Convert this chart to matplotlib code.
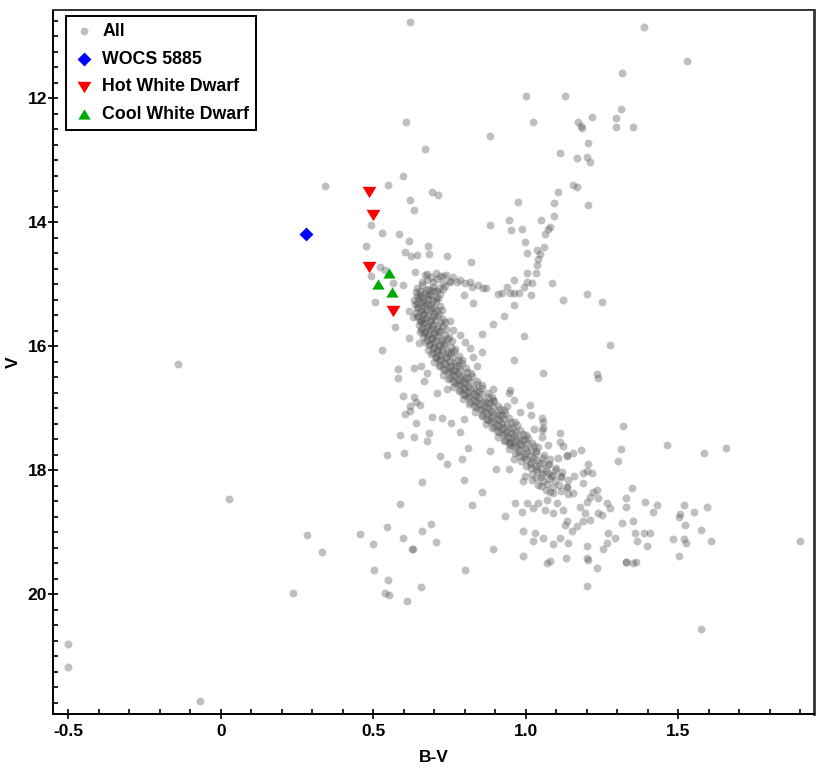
import matplotlib
matplotlib.use("Agg")
import matplotlib.pyplot as plt
from matplotlib.ticker import MultipleLocator

plt.rcParams['font.family'] = ['Liberation Sans', 'DejaVu Sans']
plt.rcParams['font.weight'] = 'bold'

# field / scattered stars (B-V, V)
field_bv = [0.621, 1.389, 1.530, 1.317, 1.000, 1.127,
            0.606, 1.023, 1.312, 1.218, 1.172, 1.186, 1.181, 1.295, 1.295, 1.350,
            0.883, 0.670, 1.204, 1.113, 1.167, 1.201, 1.209,
            0.343, 0.549, 0.599, 0.694, 0.711, 0.621, 0.635,
            1.154, 1.169, 1.106, 0.974, 1.091, 1.204,
            0.946, 0.883, 0.952, 0.988, 1.050, 1.091, 1.072, 1.080, 1.064,
            0.493, 0.530, 0.585, 0.616, 0.680, 0.475,
            0.605, 0.625, 0.642, 0.683, 0.741,
            0.997, 1.003, 1.036, 1.047, 1.060, 1.041, 1.036,
            0.820, 1.005, 1.033, 0.961, 1.003, 1.019, 1.087,
            0.910, 0.923, 0.940, 0.949, 0.962, 0.979, 0.995, 1.018,
            0.961, 1.122, 1.201, 1.249,
            0.522, 0.539, 0.493, 0.566, 0.597, 0.506, 0.638, 0.670,
            0.617, 0.630, 0.571, 0.653, 0.617, 0.651, 0.530, 0.653,
            0.785, 0.818, 0.845, 0.861, 0.870, 0.823, 0.730, 0.752, 0.796, 0.828,
            0.892, 0.929, 0.856, 0.995, 1.276, 0.856,
            0.960, 1.058, 1.233, 1.238,
            0.580, 0.580, 0.635, 0.657, 0.677, 0.666,
            0.599, 0.635, 0.621, 0.653, 0.640, 0.604, 0.621, 0.639, 0.588, 0.632,
            0.684, 0.675, 0.544, 0.602, 0.659,
            0.710, 0.741,
            0.692, 0.727, 0.756, 0.796, 0.785, 0.812, 0.719, 0.743, 0.796,
            0.883, 0.902, 0.946, 0.960, 0.792,
            0.894, 0.946, 0.963, 0.949, 0.891, 0.938, 0.949,
            0.752, 0.763, 0.785, 0.801, 0.818, 0.828, 0.839,
            1.014, 0.981, 1.017, 1.052, 1.058, 1.028, 1.052, 1.052, 1.072, 1.112,
            1.112, 1.123, 1.136, 1.156, 1.180, 1.058, 1.107, 1.134,
            1.320, 1.312, 1.303, 1.462, 1.585, 1.656,
            1.205, 1.200, 1.216, 1.189,
            0.856, 0.825,
            0.998, 0.992, 1.020, 1.041, 1.080, 1.134, 1.156, 1.158, 1.189, 1.222,
            1.233, 1.211, 1.238, 1.266, 1.276, 1.238, 1.249, 1.200, 1.178, 1.194,
            1.211, 1.189, 1.167, 1.134, 1.123, 1.102, 1.069, 1.041, 1.003, 0.965,
            0.987, 0.932, 1.025, 1.063, 1.090, 1.129, 1.151, 1.112, 1.140, 1.200,
            1.266, 1.293, 1.271, 1.315, 1.353, 1.348, 1.329, 1.328, 1.391, 1.430,
            1.418, 1.386, 1.408, 1.397, 1.366, 1.358, 1.353, 1.328, 1.233, 1.200,
            1.132, 1.069, 1.080, 1.025, 1.030, 0.990, 0.992, 0.892, 0.801, 1.058,
            1.090, 1.254, 1.482, 1.503, 1.519, 1.526, 1.522, 1.553, 1.575, 1.607,
            1.593, 1.520, 1.504, 1.506,
            1.205, 1.200, 1.327, 1.362, 1.575, 1.899,
            -0.139, 0.028, -0.500, -0.500, -0.067, 0.236, 0.282, 0.331, 0.458, 0.498,
            0.504, 0.544, 0.549, 0.539, 0.550, 0.599, 0.626, 0.631, 0.661, 0.690,
            0.706, 0.657, 0.612, 0.588]
field_v = [10.78, 10.86, 11.40, 11.60, 11.97, 11.97,
           12.38, 12.38, 12.18, 12.31, 12.39, 12.48, 12.45, 12.33, 12.47, 12.47,
           12.62, 12.83, 12.73, 12.89, 12.97, 12.95, 13.03,
           13.42, 13.40, 13.26, 13.52, 13.57, 13.65, 13.80,
           13.40, 13.43, 13.51, 13.67, 13.69, 13.73,
           13.96, 14.05, 14.13, 14.11, 13.96, 13.91, 14.11, 14.08, 14.20,
           14.05, 14.17, 14.20, 14.31, 14.38, 14.38,
           14.48, 14.55, 14.53, 14.51, 14.55,
           14.33, 14.50, 14.45, 14.51, 14.41, 14.59, 14.70,
           14.65, 14.82, 14.82, 14.93, 14.97, 14.98, 14.98,
           15.16, 15.14, 15.05, 15.15, 15.15, 15.14, 15.05, 15.18,
           15.34, 15.26, 15.16, 15.29,
           14.73, 14.77, 14.87, 14.99, 15.02, 15.29, 14.80, 14.85,
           15.43, 15.53, 15.69, 15.77, 15.87, 15.95, 16.07, 15.60,
           14.93, 14.97, 15.01, 15.07, 15.07, 15.05, 14.87, 14.96, 15.17, 15.31,
           15.64, 15.51, 15.81, 15.84, 15.98, 16.10,
           16.22, 16.43, 16.45, 16.52,
           16.37, 16.51, 16.35, 16.32, 16.43, 16.56,
           16.80, 16.82, 16.96, 16.95, 16.91, 17.10, 17.05, 17.24, 17.44, 17.47,
           17.41, 17.53, 17.76, 17.73, 18.20,
           16.76, 16.69,
           17.14, 17.16, 17.24, 17.18, 17.38, 17.65, 17.78, 17.91, 18.16,
           17.69, 17.98, 17.98, 17.82, 17.82,
           16.70, 16.76, 16.87, 16.71, 16.87, 16.97, 17.54,
           15.60, 15.74, 15.82, 15.93, 16.03, 16.17, 16.33,
           16.95, 17.06, 17.11, 17.16, 17.22, 17.34, 17.36, 17.47, 17.59, 17.40,
           17.54, 17.62, 17.75, 17.72, 17.67, 17.32, 17.81, 17.78,
           17.29, 17.66, 17.85, 17.60, 17.72, 17.65,
           17.90, 18.02, 18.05, 18.05,
           18.36, 18.56,
           18.10, 18.18, 18.16, 18.24, 18.35, 18.27, 18.37, 18.10, 18.21, 18.35,
           18.32, 18.43, 18.45, 18.53, 18.61, 18.69, 18.72, 18.51, 18.59, 18.69,
           18.80, 18.83, 18.91, 18.83, 18.64, 18.53, 18.48, 18.53, 18.53, 18.53,
           18.67, 18.74, 18.61, 18.64, 18.69, 18.88, 18.99, 19.10, 19.18, 19.23,
           19.18, 19.10, 19.01, 18.85, 18.83, 18.29, 18.45, 18.59, 18.52, 18.57,
           18.68, 19.01, 19.01, 19.22, 19.14, 19.02, 19.50, 19.48, 19.58, 19.42,
           19.42, 19.50, 19.47, 19.15, 19.02, 18.98, 19.38, 19.27, 19.61, 19.10,
           19.19, 19.27, 19.11, 19.39, 19.11, 19.18, 18.89, 18.67, 18.96, 19.14,
           18.60, 18.57, 18.75, 18.71,
           19.45, 19.87, 19.49, 19.49, 20.56, 19.14,
           16.29, 18.47, 20.81, 21.18, 21.72, 19.98, 19.04, 19.32, 19.03, 19.20,
           19.61, 18.92, 19.78, 19.98, 20.01, 19.10, 19.27, 19.27, 18.98, 18.87,
           19.16, 19.89, 20.12, 18.54]

# dense cluster sequence, read row by row across the band
ridge_bv = [[0.675, 0.69, 0.705, 0.72, 0.74, 0.76],
            [0.66, 0.675, 0.695, 0.71, 0.73, 0.75, 0.775, 0.80],
            [0.645, 0.66, 0.68, 0.695, 0.715, 0.735],
            [0.64, 0.652, 0.668, 0.683, 0.70, 0.72],
            [0.635, 0.65, 0.662, 0.678, 0.695, 0.712],
            [0.638, 0.648, 0.665, 0.68, 0.698, 0.72],
            [0.64, 0.655, 0.668, 0.685, 0.70, 0.725],
            [0.645, 0.66, 0.673, 0.69, 0.708, 0.73],
            [0.65, 0.664, 0.68, 0.695, 0.712, 0.735],
            [0.655, 0.67, 0.685, 0.70, 0.72, 0.74],
            [0.662, 0.675, 0.692, 0.708, 0.725, 0.748],
            [0.67, 0.685, 0.70, 0.715, 0.735, 0.758],
            [0.68, 0.695, 0.71, 0.725, 0.745, 0.768],
            [0.69, 0.705, 0.72, 0.738, 0.755, 0.78],
            [0.70, 0.716, 0.732, 0.75, 0.768, 0.79],
            [0.715, 0.73, 0.747, 0.762, 0.78, 0.805],
            [0.73, 0.745, 0.76, 0.778, 0.795, 0.82],
            [0.745, 0.76, 0.777, 0.795, 0.812, 0.84],
            [0.76, 0.777, 0.793, 0.81, 0.83, 0.855],
            [0.78, 0.795, 0.812, 0.83, 0.848, 0.875],
            [0.795, 0.812, 0.83, 0.847, 0.865, 0.89],
            [0.815, 0.83, 0.848, 0.866, 0.884, 0.91],
            [0.835, 0.85, 0.868, 0.886, 0.905, 0.93],
            [0.855, 0.87, 0.887, 0.905, 0.922, 0.945],
            [0.87, 0.887, 0.905, 0.922, 0.94, 0.965],
            [0.89, 0.906, 0.923, 0.94, 0.958, 0.98],
            [0.91, 0.925, 0.942, 0.96, 0.978, 1.00],
            [0.93, 0.945, 0.962, 0.98, 0.997, 1.02],
            [0.945, 0.962, 0.98, 0.998, 1.016, 1.04],
            [0.965, 0.98, 0.998, 1.016, 1.035, 1.06],
            [0.985, 1.0, 1.018, 1.036, 1.055, 1.08],
            [1.0, 1.017, 1.035, 1.054, 1.072, 1.10],
            [1.02, 1.036, 1.054, 1.072, 1.09, 1.12],
            [1.035, 1.055, 1.075, 1.095, 1.115, 1.14],
            [1.05, 1.07, 1.09, 1.11, 1.135],
            [1.065, 1.09, 1.115, 1.14],
            # second pass, stars lying between the rows above
            [0.652, 0.672, 0.69, 0.708, 0.728],
            [0.645, 0.66, 0.675, 0.69, 0.707],
            [0.642, 0.657, 0.671, 0.688, 0.705],
            [0.643, 0.66, 0.674, 0.69, 0.71],
            [0.648, 0.663, 0.68, 0.697, 0.716],
            [0.655, 0.67, 0.686, 0.703, 0.722],
            [0.66, 0.676, 0.692, 0.71, 0.728],
            [0.667, 0.682, 0.699, 0.716, 0.735],
            [0.675, 0.69, 0.707, 0.724, 0.745],
            [0.684, 0.70, 0.716, 0.733, 0.755],
            [0.695, 0.71, 0.727, 0.745, 0.765],
            [0.707, 0.722, 0.74, 0.757, 0.778],
            [0.72, 0.737, 0.754, 0.77, 0.79],
            [0.735, 0.752, 0.768, 0.786, 0.806],
            [0.75, 0.767, 0.785, 0.802, 0.825],
            [0.767, 0.784, 0.80, 0.818, 0.84],
            [0.783, 0.80, 0.818, 0.836, 0.858],
            [0.80, 0.818, 0.836, 0.854, 0.875],
            [0.818, 0.837, 0.855, 0.873, 0.895],
            [0.838, 0.856, 0.875, 0.893, 0.915],
            [0.857, 0.876, 0.894, 0.912, 0.932],
            [0.875, 0.894, 0.912, 0.93, 0.95],
            [0.895, 0.913, 0.93, 0.948, 0.97],
            [0.913, 0.932, 0.95, 0.968, 0.99],
            [0.932, 0.95, 0.968, 0.987, 1.008],
            [0.948, 0.968, 0.986, 1.005, 1.027],
            [0.975, 1.005, 1.035],
            [0.995, 1.025, 1.055],
            [1.014, 1.044, 1.075],
            [1.034, 1.065, 1.095],
            [1.05, 1.084, 1.115]]
ridge_v = [[14.84, 14.88, 14.82, 14.87, 14.85, 14.89],
           [14.97, 14.93, 14.96, 14.92, 14.98, 14.95, 14.97, 14.99],
           [15.06, 15.02, 15.08, 15.04, 15.07, 15.03],
           [15.13, 15.17, 15.14, 15.18, 15.12, 15.16],
           [15.26, 15.22, 15.27, 15.24, 15.28, 15.23],
           [15.33, 15.37, 15.35, 15.32, 15.38, 15.36],
           [15.46, 15.43, 15.48, 15.44, 15.47, 15.42],
           [15.53, 15.57, 15.54, 15.58, 15.52, 15.56],
           [15.66, 15.63, 15.67, 15.64, 15.68, 15.62],
           [15.74, 15.77, 15.73, 15.78, 15.75, 15.72],
           [15.86, 15.83, 15.87, 15.84, 15.88, 15.85],
           [15.94, 15.97, 15.93, 15.98, 15.95, 15.92],
           [16.06, 16.03, 16.07, 16.04, 16.08, 16.05],
           [16.13, 16.17, 16.14, 16.18, 16.12, 16.16],
           [16.26, 16.22, 16.27, 16.24, 16.28, 16.23],
           [16.33, 16.37, 16.34, 16.38, 16.32, 16.36],
           [16.46, 16.42, 16.47, 16.44, 16.48, 16.43],
           [16.53, 16.57, 16.54, 16.58, 16.52, 16.56],
           [16.66, 16.62, 16.67, 16.64, 16.68, 16.63],
           [16.73, 16.77, 16.74, 16.78, 16.72, 16.76],
           [16.86, 16.82, 16.87, 16.84, 16.88, 16.83],
           [16.93, 16.97, 16.94, 16.98, 16.92, 16.96],
           [17.06, 17.02, 17.07, 17.04, 17.08, 17.03],
           [17.13, 17.17, 17.14, 17.18, 17.12, 17.16],
           [17.26, 17.22, 17.27, 17.24, 17.28, 17.23],
           [17.33, 17.37, 17.34, 17.38, 17.32, 17.36],
           [17.46, 17.42, 17.47, 17.44, 17.48, 17.43],
           [17.53, 17.57, 17.54, 17.58, 17.52, 17.56],
           [17.66, 17.62, 17.67, 17.64, 17.68, 17.63],
           [17.73, 17.77, 17.74, 17.78, 17.72, 17.76],
           [17.86, 17.82, 17.87, 17.84, 17.88, 17.83],
           [17.93, 17.97, 17.94, 17.98, 17.92, 17.96],
           [18.06, 18.02, 18.07, 18.04, 18.08, 18.03],
           [18.13, 18.17, 18.14, 18.18, 18.12, 18.16],
           [18.26, 18.22, 18.27, 18.24, 18.28],
           [18.33, 18.37, 18.34, 18.38],
           [15.11, 15.09, 15.10, 15.12, 15.08],
           [15.19, 15.21, 15.20, 15.18, 15.22],
           [15.31, 15.29, 15.30, 15.32, 15.28],
           [15.39, 15.41, 15.40, 15.38, 15.42],
           [15.51, 15.49, 15.50, 15.52, 15.48],
           [15.59, 15.61, 15.60, 15.58, 15.62],
           [15.71, 15.69, 15.70, 15.72, 15.68],
           [15.79, 15.81, 15.80, 15.78, 15.82],
           [15.91, 15.89, 15.90, 15.92, 15.88],
           [15.99, 16.01, 16.00, 15.98, 16.02],
           [16.11, 16.09, 16.10, 16.12, 16.08],
           [16.19, 16.21, 16.20, 16.18, 16.22],
           [16.31, 16.29, 16.30, 16.32, 16.28],
           [16.39, 16.41, 16.40, 16.38, 16.42],
           [16.51, 16.49, 16.50, 16.52, 16.48],
           [16.59, 16.61, 16.60, 16.58, 16.62],
           [16.71, 16.69, 16.70, 16.72, 16.68],
           [16.79, 16.81, 16.80, 16.78, 16.82],
           [16.91, 16.89, 16.90, 16.92, 16.88],
           [16.99, 17.01, 17.00, 16.98, 17.02],
           [17.11, 17.09, 17.10, 17.12, 17.08],
           [17.19, 17.21, 17.20, 17.18, 17.22],
           [17.31, 17.29, 17.30, 17.32, 17.28],
           [17.39, 17.41, 17.40, 17.38, 17.42],
           [17.51, 17.49, 17.50, 17.52, 17.48],
           [17.59, 17.61, 17.60, 17.58, 17.62],
           [17.71, 17.69, 17.70],
           [17.79, 17.81, 17.80],
           [17.91, 17.89, 17.90],
           [17.99, 18.01, 18.00],
           [18.11, 18.09, 18.10]]

wocs_bv, wocs_v = [0.281], [14.20]
hot_bv = [0.487, 0.500, 0.487, 0.566]
hot_v = [13.51, 13.88, 14.72, 15.44]
cool_bv = [0.552, 0.517, 0.561]
cool_v = [14.82, 15.00, 15.13]

all_bv = list(field_bv)
all_v = list(field_v)
for row_bv, row_v in zip(ridge_bv, ridge_v):
    all_bv += row_bv
    all_v += row_v

fig = plt.figure(figsize=(8.3, 7.68), dpi=100)
ax = fig.add_axes([0.0642, 0.0707, 0.9169, 0.9163])

ax.scatter(all_bv, all_v, s=32, color='#555555', alpha=0.375, linewidths=0, label='All')
ax.scatter(wocs_bv, wocs_v, s=50, marker='D', color='#0000ff', linewidths=0, label='WOCS 5885')
tri_down = [(-1, 0.82), (1, 0.82), (0, -0.82)]
tri_up = [(-1, -0.82), (1, -0.82), (0, 0.82)]
ax.scatter(hot_bv, hot_v, s=100, marker=tri_down, color='#ff0000', linewidths=0, label='Hot White Dwarf')
ax.scatter(cool_bv, cool_v, s=80, marker=tri_up, color='#00aa00', linewidths=0, label='Cool White Dwarf')

ax.set_xlim(-0.549, 1.946)
ax.set_ylim(21.93, 10.58)

ax.set_xticks([-0.5, 0, 0.5, 1.0, 1.5])
ax.set_xticklabels(['-0.5', '0', '0.5', '1.0', '1.5'])
ax.set_yticks([12, 14, 16, 18, 20])
ax.set_yticklabels(['12', '14', '16', '18', '20'])
ax.xaxis.set_minor_locator(MultipleLocator(0.1))
ax.yaxis.set_minor_locator(MultipleLocator(0.25))
ax.tick_params(which='major', direction='inout', length=7, width=1.2, labelsize=12.5)
ax.tick_params(axis='x', which='major', pad=4)
ax.tick_params(axis='y', which='major', pad=1)
ax.tick_params(which='minor', direction='in', length=3.5, width=1.2)
ax.tick_params(top=False, right=False, which='both')

for s in ['left', 'bottom']:
    ax.spines[s].set_linewidth(1.4)
ax.spines['top'].set_linewidth(1.4)
ax.spines['top'].set_color('#333333')
ax.spines['right'].set_linewidth(2)
ax.spines['right'].set_color('#333333')

ax.set_xlabel('B-V', fontsize=12.5, fontweight='bold', labelpad=8)
ax.set_ylabel('V', fontsize=12.5, fontweight='bold', labelpad=5)

leg = ax.legend(loc='upper left', bbox_to_anchor=(0.0167, 0.9915), borderaxespad=0,
                prop={'size': 12.8, 'weight': 'bold'}, frameon=True,
                fancybox=False, framealpha=1, edgecolor='black',
                handlelength=1.2, handletextpad=0.44, labelspacing=0.6, borderpad=0.4,
                scatterpoints=1)
leg.get_frame().set_linewidth(1.4)

fig.savefig('out.png', dpi=100)
